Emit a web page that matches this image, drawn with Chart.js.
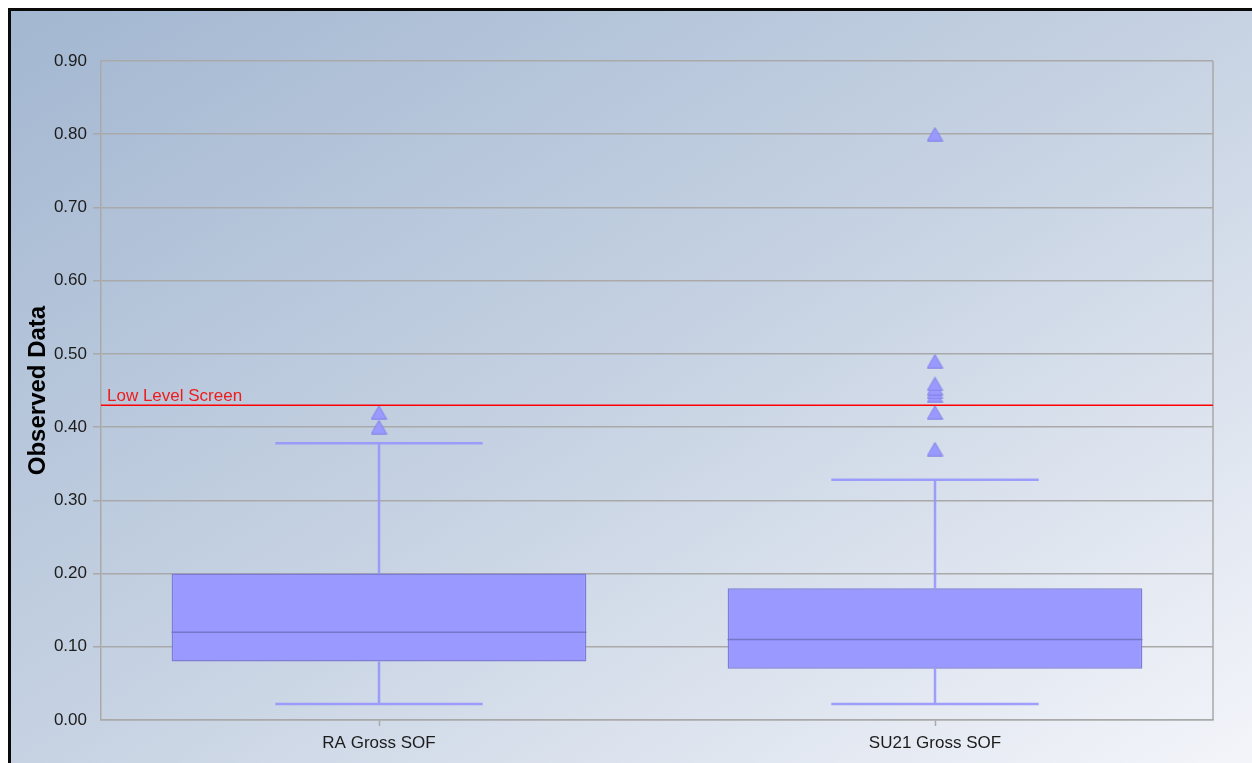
<!DOCTYPE html>
<html>
<head>
<meta charset="utf-8">
<title>Observed Data</title>
<script src="https://cdn.jsdelivr.net/npm/chart.js@4.4.1/dist/chart.umd.min.js"></script>
<style>
  html, body { margin: 0; padding: 0; width: 1252px; height: 763px; overflow: hidden; background: #ffffff; }
  #frame {
    position: absolute; left: 8px; top: 8px; width: 1260px; height: 770px;
    border-left: 3px solid #0a0a0a; border-top: 3px solid #0a0a0a;
    background: linear-gradient(to bottom right, #a3b7d1 0%, #c7d3e3 50%, #f5f6fb 100%);
  }
  #plot { position: absolute; left: 0; top: 0; }
</style>
</head>
<body>
<div id="frame"></div>
<canvas id="plot" width="1252" height="763"></canvas>
<script>
// Groups and five-number summaries
const categories = ['RA Gross SOF', 'SU21 Gross SOF'];
const q1 = [0.08, 0.07];
const q3 = [0.20, 0.18];
const medians = [0.12, 0.11];
const whiskerLow = [0.022, 0.022];
const whiskerHigh = [0.378, 0.328];

// Values beyond the whiskers
const raOutliers = [0.40, 0.42];
const su21Outliers = [0.37, 0.42, 0.443, 0.448, 0.453, 0.459, 0.49, 0.80];

// Reference level
const screenLevel = 0.43;
const screenLabel = 'Low Level Screen';

const FONT = '"Liberation Sans", Arial, Helvetica, sans-serif';
const BOX_FILL = '#9999ff';
const BOX_EDGE = '#7d7dd8';
const WHISKER = 'rgba(150,150,252,0.9)';
const GRID = '#a9a9a9';
const TEXT = '#1c1c1c';

const outlierPoints = [];
raOutliers.forEach(v => outlierPoints.push({ x: categories[0], y: v }));
su21Outliers.forEach(v => outlierPoints.push({ x: categories[1], y: v }));

// Outlier marker: a triangle centred on its bounding box
function triangleMarker(w, h) {
  const c = document.createElement('canvas');
  c.width = w; c.height = h;
  const g = c.getContext('2d');
  g.beginPath();
  g.moveTo(w / 2, 0.8);
  g.lineTo(w - 0.8, h - 0.8);
  g.lineTo(0.8, h - 0.8);
  g.closePath();
  g.fillStyle = BOX_FILL;
  g.fill();
  g.strokeStyle = '#8282e4';
  g.lineWidth = 1;
  g.stroke();
  return c;
}
const marker = triangleMarker(17, 15);

// Whiskers, medians, the screening line and the plot frame
const boxParts = {
  id: 'boxParts',
  beforeDatasetsDraw(chart) {
    const { ctx } = chart;
    const x = chart.scales.x, y = chart.scales.y;
    const bars = chart.getDatasetMeta(1).data;
    ctx.save();
    ctx.strokeStyle = WHISKER;
    ctx.lineWidth = 2.5;
    categories.forEach((c, i) => {
      const cx = x.getPixelForValue(i);
      const half = bars[i].width / 4;
      const yl = y.getPixelForValue(whiskerLow[i]);
      const yh = y.getPixelForValue(whiskerHigh[i]);
      ctx.beginPath();
      ctx.moveTo(cx, y.getPixelForValue(q1[i])); ctx.lineTo(cx, yl);
      ctx.moveTo(cx, y.getPixelForValue(q3[i])); ctx.lineTo(cx, yh);
      ctx.moveTo(cx - half, yl); ctx.lineTo(cx + half, yl);
      ctx.moveTo(cx - half, yh); ctx.lineTo(cx + half, yh);
      ctx.stroke();
    });
    ctx.restore();
  },
  afterDatasetsDraw(chart) {
    const { ctx, chartArea } = chart;
    const x = chart.scales.x, y = chart.scales.y;
    const bars = chart.getDatasetMeta(1).data;
    ctx.save();
    // medians
    ctx.strokeStyle = '#7676c8';
    ctx.lineWidth = 1.5;
    categories.forEach((c, i) => {
      const cx = x.getPixelForValue(i);
      const half = bars[i].width / 2;
      const ym = y.getPixelForValue(medians[i]);
      ctx.beginPath();
      ctx.moveTo(cx - half, ym); ctx.lineTo(cx + half, ym);
      ctx.stroke();
    });
    // right frame edge
    ctx.strokeStyle = GRID;
    ctx.lineWidth = 1.5;
    ctx.beginPath();
    ctx.moveTo(chartArea.right, chartArea.top);
    ctx.lineTo(chartArea.right, chartArea.bottom);
    ctx.stroke();
    // screening level
    const ys = y.getPixelForValue(screenLevel);
    ctx.strokeStyle = '#ff0000';
    ctx.lineWidth = 1.5;
    ctx.beginPath();
    ctx.moveTo(chartArea.left, ys); ctx.lineTo(chartArea.right, ys);
    ctx.stroke();
    ctx.fillStyle = '#ee1c1c';
    ctx.font = '17px ' + FONT;
    ctx.textAlign = 'left';
    ctx.textBaseline = 'alphabetic';
    ctx.fillText(screenLabel, chartArea.left + 6, ys - 4);
    ctx.restore();
  }
};

new Chart(document.getElementById('plot'), {
  type: 'bar',
  data: {
    labels: categories,
    datasets: [
      {
        type: 'line',
        data: outlierPoints,
        showLine: false,
        pointStyle: marker,
        pointRadius: 8,
        order: 0
      },
      {
        data: categories.map((c, i) => [q1[i], q3[i]]),
        backgroundColor: BOX_FILL,
        borderColor: BOX_EDGE,
        borderWidth: 1.5,
        borderSkipped: false,
        categoryPercentage: 1,
        barPercentage: 0.746,
        order: 1
      }
    ]
  },
  options: {
    responsive: false,
    animation: false,
    events: [],
    layout: { padding: { top: 61, right: 39, bottom: 0, left: 0 } },
    plugins: { legend: { display: false }, tooltip: { enabled: false } },
    scales: {
      x: {
        afterFit(s) { s.height = 43; },
        offset: true,
        grid: {
          offset: false,
          drawOnChartArea: false,
          tickLength: 6,
          tickColor: GRID,
          tickWidth: 1.5
        },
        border: { color: GRID, width: 1.5 },
        ticks: { color: TEXT, padding: 7, font: { family: FONT, size: 17 } }
      },
      y: {
        min: 0,
        max: 0.9,
        afterFit(s) { s.width = 101; },
        ticks: {
          stepSize: 0.1,
          padding: 6,
          color: TEXT,
          font: { family: FONT, size: 17 },
          callback: v => Number(v).toFixed(2)
        },
        grid: {
          color: GRID,
          lineWidth: 1.5,
          tickLength: 8,
          tickColor: ctx => (ctx.index === 0 || ctx.index === 9) ? 'rgba(0,0,0,0)' : GRID
        },
        border: { color: GRID, width: 1.5 },
        title: {
          display: true,
          text: 'Observed Data',
          color: '#000',
          font: { family: FONT, size: 24, weight: 'bold' },
          padding: { top: 24, bottom: 0 }
        }
      }
    }
  },
  plugins: [boxParts]
});
</script>
</body>
</html>
